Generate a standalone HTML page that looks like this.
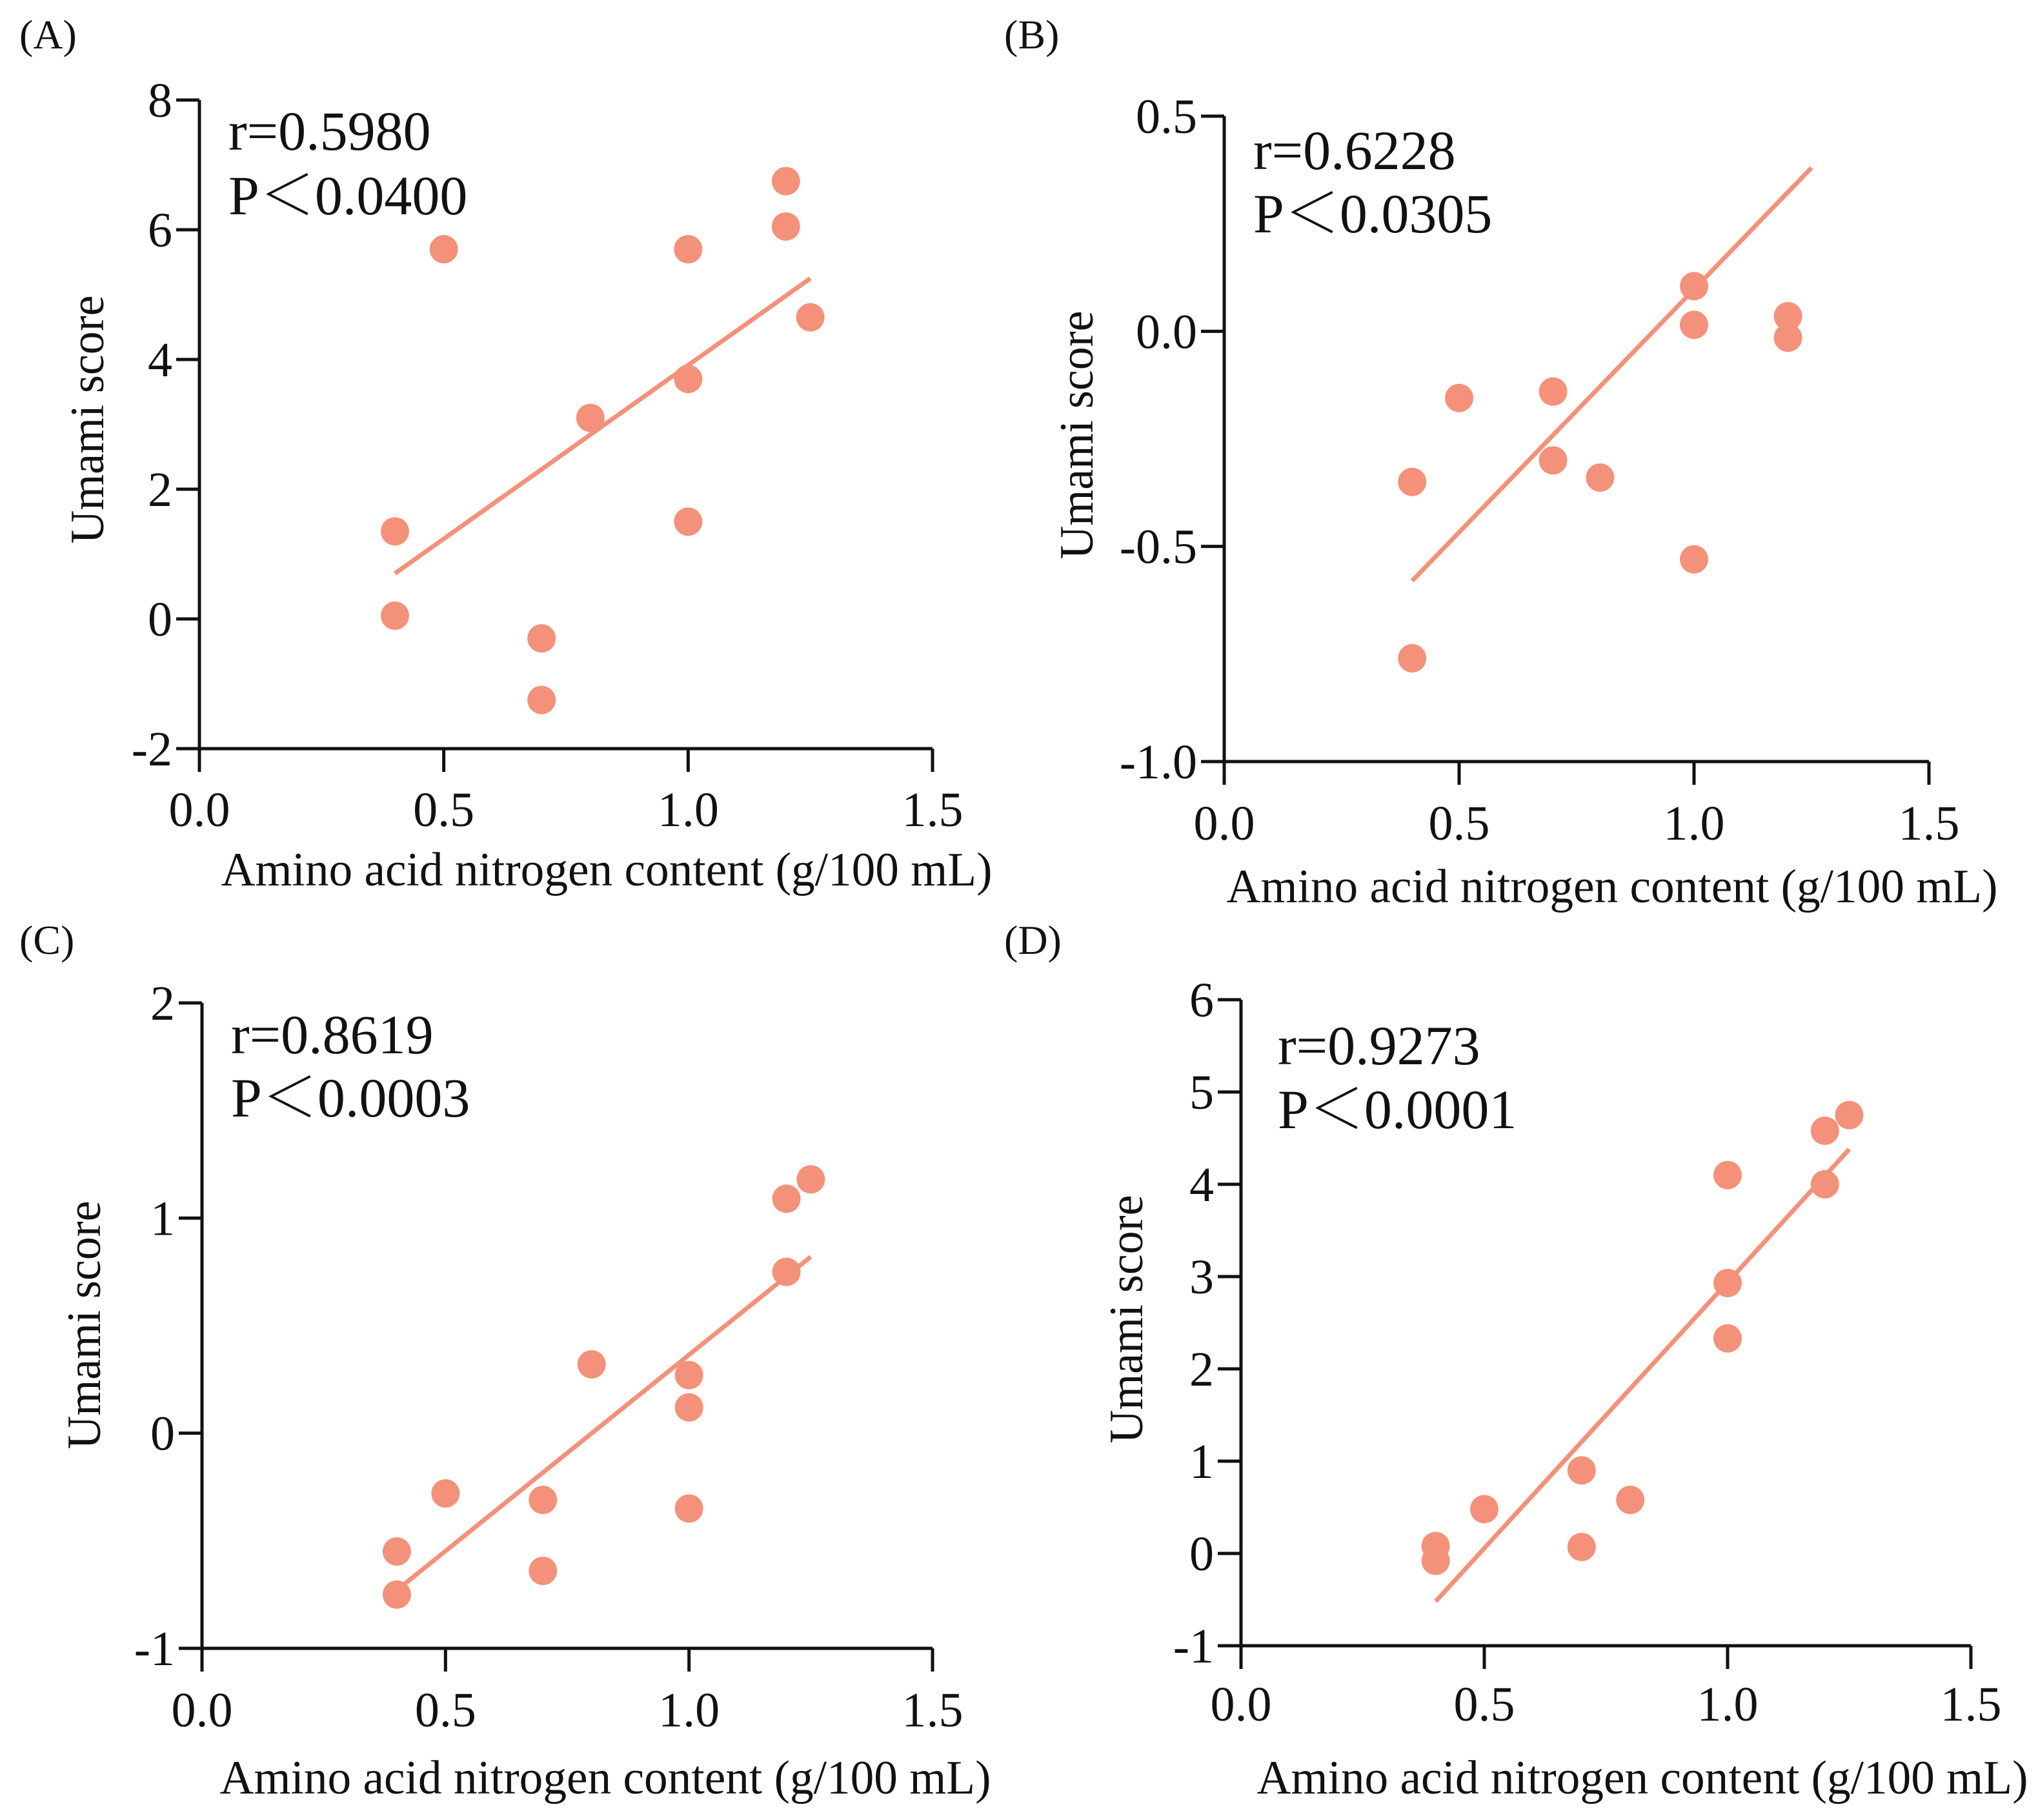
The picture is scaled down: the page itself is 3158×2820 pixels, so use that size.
<!DOCTYPE html>
<html><head><meta charset="utf-8">
<style>
html,body{margin:0;padding:0;background:#fff;}
svg{display:block;}
text{font-family:"Liberation Serif","Noto Serif CJK SC",serif;fill:#111;}
</style></head>
<body>
<svg id="fig" width="3158" height="2820" viewBox="0 0 3158 2820" xmlns="http://www.w3.org/2000/svg"></svg>
<script>
// Panel data
const xA = [0.4,0.4,0.5,0.7,0.7,0.8,1.0,1.0,1.0,1.2,1.2,1.25];
const yA = [1.35,0.05,5.7,-0.3,-1.25,3.1,5.7,3.7,1.5,6.75,6.05,4.65];
const fitA = [[0.4,0.7],[1.25,5.25]];
const yTicksA = [-2,0,2,4,6,8];
const yTickLabelsA = ["-2","0","2","4","6","8"];

const xB = [0.4,0.4,0.5,0.7,0.7,0.8,1.0,1.0,1.0,1.2,1.2];
const yB = [-0.35,-0.76,-0.155,-0.14,-0.30,-0.34,0.105,0.015,-0.53,0.035,-0.015];
const fitB = [[0.4,-0.58],[1.25,0.38]];
const yTicksB = [-1.0,-0.5,0.0,0.5];
const yTickLabelsB = ["-1.0","-0.5","0.0","0.5"];

const xC = [0.4,0.4,0.5,0.7,0.7,0.8,1.0,1.0,1.0,1.2,1.2,1.25];
const yC = [-0.55,-0.75,-0.28,-0.31,-0.64,0.32,0.27,0.12,-0.35,1.09,0.75,1.18];
const fitC = [[0.4,-0.73],[1.25,0.82]];
const yTicksC = [-1,0,1,2];
const yTickLabelsC = ["-1","0","1","2"];

const xD = [0.4,0.4,0.5,0.7,0.7,0.8,1.0,1.0,1.0,1.2,1.2,1.25];
const yD = [0.08,-0.08,0.48,0.9,0.07,0.58,4.1,2.93,2.33,4.58,4.0,4.75];
const fitD = [[0.4,-0.52],[1.25,4.38]];
const yTicksD = [-1,0,1,2,3,4,5,6];
const yTickLabelsD = ["-1","0","1","2","3","4","5","6"];

const xTicks = [0,0.5,1.0,1.5];
const xTickLabels = ["0.0","0.5","1.0","1.5"];

const NS = "http://www.w3.org/2000/svg";
const svg = document.getElementById("fig");
const COLOR = "#F4917A";

function mk(tag, attrs, parent){
  const e = document.createElementNS(NS, tag);
  for (const k in attrs) e.setAttribute(k, attrs[k]);
  (parent||svg).appendChild(e);
  return e;
}

function panel(p){
  const g = mk("g",{});
  
  
  const sx = v => p.x0 + (v - 0) / 1.5 * (p.x1 - p.x0);
  const sy = v => p.yb + (v - p.ymin) / (p.ymax - p.ymin) * (p.yt - p.yb);

  const lab = mk("text",{x:p.labX, y:p.labY, "font-size":64},g);
  lab.textContent = "(" + p.id + ")";
  
  

  const ya = mk("line",{x1:p.x0,y1:p.yt,x2:p.x0,y2:p.yb,stroke:"#111","stroke-width":5},g);
  
  
  const xa = mk("line",{x1:p.x0-2,y1:p.yb,x2:p.x1,y2:p.yb,stroke:"#111","stroke-width":5},g);
  
  

  p.yTicks.forEach((v,i)=>{
    const y = sy(v);
    const t = mk("line",{x1:p.x0-36,y1:y,x2:p.x0,y2:y,stroke:"#111","stroke-width":5},g);
    
    
    const tl = mk("text",{x:p.x0-42,y:y+26,"font-size":76,"text-anchor":"end"},g);
    tl.textContent = p.yLabels[i];
    
    
  });
  xTicks.forEach((v,i)=>{
    const x = sx(v);
    const t = mk("line",{x1:x,y1:p.yb,x2:x,y2:p.yb+36,stroke:"#111","stroke-width":5},g);
    
    
    const tl = mk("text",{x:x,y:p.xtY,"font-size":76,"text-anchor":"middle"},g);
    tl.textContent = xTickLabels[i];
    
    
  });

  const xt = mk("text",{x:p.xtitleX,y:p.xtitleY,"font-size":74,"text-anchor":"middle",textLength:1195,lengthAdjust:"spacingAndGlyphs"},g);
  xt.textContent = "Amino acid nitrogen content (g/100 mL)";
  
  

  const yt = mk("text",{x:0,y:0,"font-size":74,"text-anchor":"middle",textLength:385,lengthAdjust:"spacingAndGlyphs",transform:`translate(${p.ytitleX+25},${p.ytitleY}) rotate(-90)`},g);
  yt.textContent = "Umami score";
  
  

  const fl = mk("line",{x1:sx(p.fit[0][0]),y1:sy(p.fit[0][1]),x2:sx(p.fit[1][0]),y2:sy(p.fit[1][1]),stroke:COLOR,"stroke-width":7},g);
  
  

  p.xs.forEach((xv,i)=>{
    const c = mk("circle",{cx:sx(xv),cy:sy(p.ys[i]),r:22,fill:COLOR},g);
    
    
  });

  const r = mk("text",{x:p.annX,y:p.annY1,"font-size":86},g);
  r.textContent = p.r;
  
  
  const pv = mk("text",{x:p.annX,y:p.annY2,"font-size":86},g);
  pv.textContent = p.pv;
  
  
}

panel({id:"A",x0:309,x1:1445,yt:155,yb:1160,ymin:-2,ymax:8,xs:xA,ys:yA,fit:fitA,yTicks:yTicksA,yLabels:yTickLabelsA,
  labX:30,labY:75,xtY:1280,xtitleX:940,xtitleY:1372,ytitleX:135,ytitleY:650,annX:354,annY1:232,annY2:332,r:"r=0.5980",pv:"P＜0.0400"});
panel({id:"B",x0:1897,x1:2989,yt:180,yb:1180,ymin:-1,ymax:0.5,xs:xB,ys:yB,fit:fitB,yTicks:yTicksB,yLabels:yTickLabelsB,
  labX:1556,labY:75,xtY:1301,xtitleX:2498,xtitleY:1398,ytitleX:1668,ytitleY:674,annX:1942,annY1:262,annY2:360,r:"r=0.6228",pv:"P＜0.0305"});
panel({id:"C",x0:313,x1:1445,yt:1554,yb:2554,ymin:-1,ymax:2,xs:xC,ys:yC,fit:fitC,yTicks:yTicksC,yLabels:yTickLabelsC,
  labX:30,labY:1478,xtY:2675,xtitleX:938,xtitleY:2779,ytitleX:130,ytitleY:2053,annX:358,annY1:1632,annY2:1730,r:"r=0.8619",pv:"P＜0.0003"});
panel({id:"D",x0:1923,x1:3054,yt:1549,yb:2550,ymin:-1,ymax:6,xs:xD,ys:yD,fit:fitD,yTicks:yTicksD,yLabels:yTickLabelsD,
  labX:1556,labY:1478,xtY:2666,xtitleX:2545,xtitleY:2779,ytitleX:1745,ytitleY:2044,annX:1980,annY1:1649,annY2:1748,r:"r=0.9273",pv:"P＜0.0001"});
</script>
</body></html>
